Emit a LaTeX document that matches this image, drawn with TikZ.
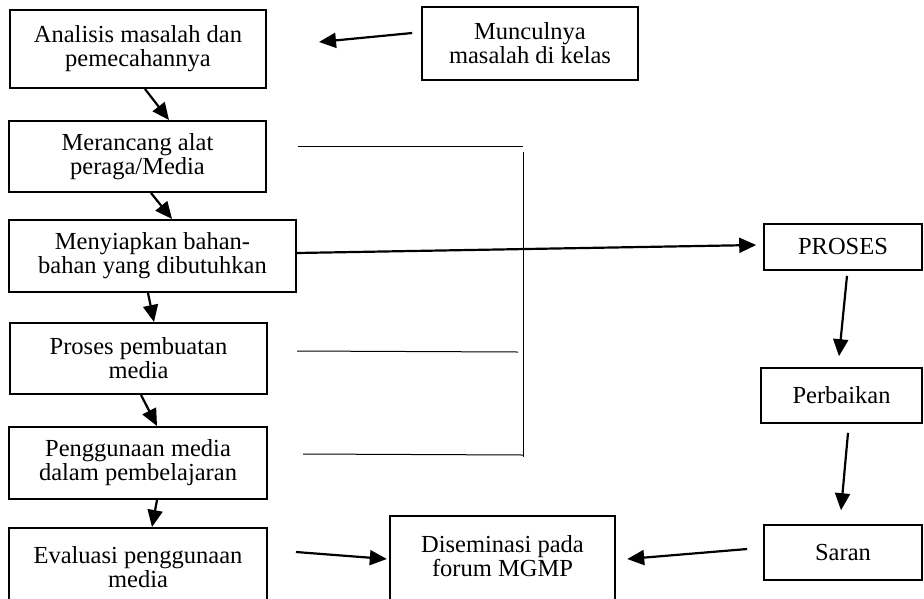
\documentclass[tikz,border=0pt]{standalone}
\usepackage{fontspec}
\setmainfont{Liberation Serif}
\usetikzlibrary{arrows.meta}
\tikzset{
  boxtext/.style={align=center, inner sep=0pt, font=\fontsize{24.5}{24}\selectfont},
  mainbox/.style={boxtext, draw, line width=2pt},
  thinbox/.style={boxtext, draw, line width=1.6pt},
  openbox/.style={boxtext},
  arr/.style={line width=2.2pt, -{Triangle[length=17pt,width=15pt]}},
  bracket/.style={line width=1pt},
}
\begin{document}
\begin{tikzpicture}[x=1pt,y=-1pt]
\useasboundingbox (0,0) rectangle (924,598);
\clip (0,0) rectangle (924,598);
\fill[white] (0,0) rectangle (924,598);

\node[mainbox, minimum width=256, minimum height=78] (A) at (138,49) {Analisis masalah dan\\pemecahannya};
\node[thinbox, minimum width=216, minimum height=73] (M) at (530,43.5) {Munculnya\\masalah di kelas};
\node[mainbox, minimum width=257, minimum height=71] (B) at (137.5,156.5) {Merancang alat\\peraga/Media};
\node[mainbox, minimum width=287, minimum height=72] (C) at (152.5,256) {Menyiapkan bahan-\\bahan yang dibutuhkan};
\node[mainbox, minimum width=257, minimum height=71] (D) at (138.5,358.5) {Proses pembuatan\\media};
\node[mainbox, minimum width=258, minimum height=72] (E) at (138,463) {Penggunaan media\\dalam pembelajaran};
\node[mainbox, minimum width=258, minimum height=78] (F) at (138,567) {Evaluasi penggunaan\\media};
\node[openbox, minimum width=225, minimum height=80] (G) at (502.5,556) {Diseminasi pada\\forum MGMP};
\draw[line width=1.7pt] ([yshift=-20pt]G.south west) -- (G.north west) -- (G.north east) -- ([yshift=-20pt]G.south east);
\node[thinbox, minimum width=158, minimum height=46] (P) at (843,247) {PROSES};
\node[thinbox, minimum width=161, minimum height=55] (R) at (841.5,395.5) {Perbaikan};
\node[thinbox, minimum width=158, minimum height=55] (S) at (843,552.5) {Saran};

% bracket lines
\coordinate (l1a) at ([xshift=31pt,yshift=10.5pt]B.east);
\coordinate (l1b) at (523,146);
\coordinate (vt) at (523,152);
\coordinate (vb) at (523,457);
\coordinate (l2a) at ([xshift=29pt,yshift=7.5pt]D.east);
\coordinate (l2b) at (518,352);
\coordinate (l3a) at ([xshift=35pt,yshift=9pt]E.east);
\coordinate (l3b) at (523,455);
\draw[bracket] (l1a) -- (l1b);
\draw[bracket] (vt) -- (vb);
\draw[bracket] (l2a) -- (l2b);
\draw[bracket] (l3a) -- (l3b);

% arrows
\draw[arr] ([xshift=-9pt,yshift=10.5pt]M.west) -- ([xshift=52pt,yshift=7pt]A.east);
\draw[arr] ([xshift=7pt]A.south) -- ([xshift=31.5pt]B.north);
\draw[arr] ([xshift=13.5pt]B.south) -- ([xshift=19.5pt]C.north);
\draw[arr] ([xshift=-4.5pt]C.south) -- ([xshift=15.5pt]D.north);
\draw[arr] ([xshift=2.5pt]D.south) -- ([xshift=19pt]E.north);
\draw[arr] ([xshift=19pt]E.south) -- ([xshift=14pt]F.north);
\draw[arr] ([yshift=3pt]C.east) -- ([xshift=-7pt,yshift=2pt]P.west);
\draw[arr] ([xshift=4pt,yshift=-5pt]P.south) -- ([xshift=-2.5pt,yshift=11pt]R.north);
\draw[arr] ([xshift=6.5pt,yshift=-9pt]R.south) -- ([xshift=-2pt,yshift=14pt]S.north);
\draw[arr] ([xshift=-16pt,yshift=3.5pt]S.west) -- ([xshift=12pt,yshift=-3pt]G.east);
\draw[arr] ([xshift=28pt,yshift=15pt]F.east) -- ([xshift=-3pt,yshift=-3pt]G.west);
\end{tikzpicture}
\end{document}
